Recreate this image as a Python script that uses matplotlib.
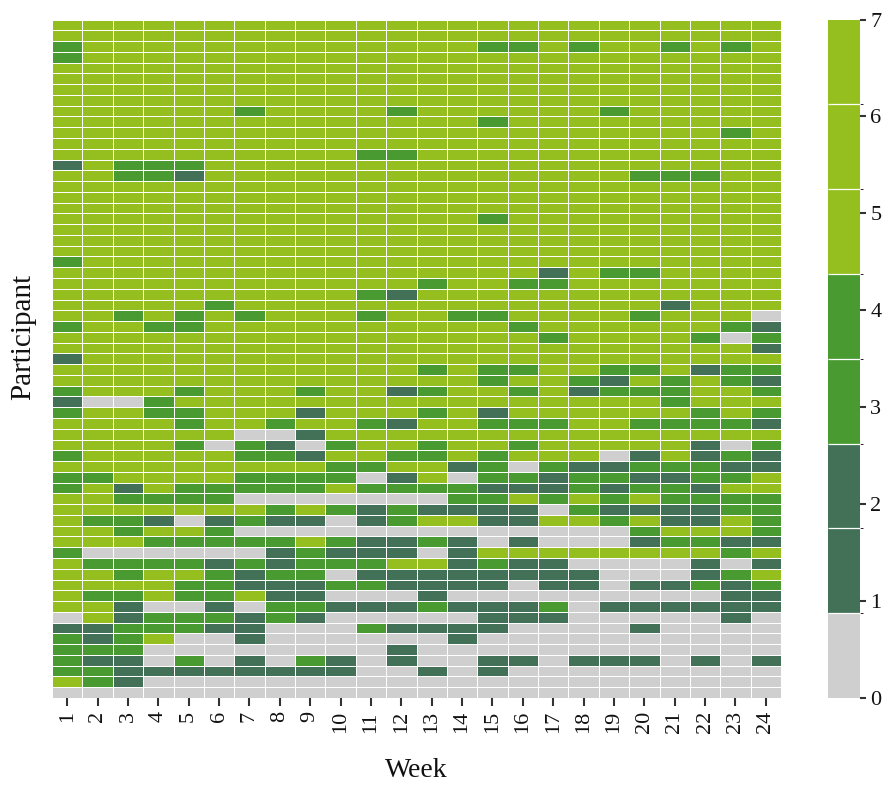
import numpy as np
import matplotlib
matplotlib.use("Agg")
import matplotlib.pyplot as plt
from matplotlib.colors import ListedColormap, BoundaryNorm

# Weekly score (0-7) per participant: one string per participant, one digit per week
# (weeks grouped in sixes for readability)
scores = [
    "777777 777777 777777 777777",
    "777777 777777 777777 777777",
    "477777 777777 774474 774747",
    "477777 777777 777777 777777",
    "777777 777777 777777 777777",
    "777777 777777 777777 777777",
    "777777 777777 777777 777777",
    "777777 777777 777777 777777",
    "777777 477774 777777 477777",
    "777777 777777 774777 777777",
    "777777 777777 777777 777747",
    "777777 777777 777777 777777",
    "777777 777744 777777 777777",
    "274447 777777 777777 777777",
    "774427 777777 777777 744477",
    "777777 777777 777777 777777",
    "777777 777777 777777 777777",
    "777777 777777 777777 777777",
    "777777 777777 774777 777777",
    "777777 777777 777777 777777",
    "777777 777777 777777 777777",
    "777777 777777 777777 777777",
    "477777 777777 777777 777777",
    "777777 777777 777727 447777",
    "777777 777777 477447 777777",
    "777777 777742 777777 777777",
    "777774 777777 777777 772777",
    "774747 477747 744777 747770",
    "477447 777777 777477 777742",
    "777777 777777 777747 777404",
    "777777 777777 777777 777772",
    "277777 777777 777777 777777",
    "777777 777777 474477 447244",
    "777777 777777 774774 274742",
    "477747 774772 477472 444774",
    "200477 777777 777777 774777",
    "477447 772777 472777 777474",
    "777747 747742 774447 744442",
    "777777 002777 777777 777777",
    "777740 420477 477477 777204",
    "477777 442774 474777 027242",
    "777777 777447 724042 244422",
    "447777 444402 704424 422447",
    "472744 444744 442224 244277",
    "774444 000000 044747 474444",
    "777777 747424 222204 222244",
    "744202 422024 772277 472274",
    "774774 000000 000000 047774",
    "777444 447422 420200 024422",
    "400000 024222 027777 777747",
    "744442 424447 724220 000202",
    "774774 244022 222222 000247",
    "777744 222442 222022 022424",
    "744744 722000 200000 000022",
    "772002 044222 422240 222222",
    "072444 242000 002220 000020",
    "224442 200042 222000 020000",
    "424700 200000 020000 000000",
    "444000 000002 000000 000000",
    "422040 204202 002202 220202",
    "442222 222200 202000 000000",
    "742000 000000 000000 000000",
    "000000 000000 000000 000000",
]

weeks = list(range(1, 25))
score_levels = list(range(0, 8))
level_colors = ["#cfcfcf", "#427157", "#427157", "#4a9a32",
                "#4a9a32", "#94bf1f", "#94bf1f", "#94bf1f"]

grid = np.array([[int(c) for c in row.replace(" ", "")] for row in scores])
n_rows, n_weeks = grid.shape

plt.rcParams["font.family"] = ["Liberation Serif", "DejaVu Serif"]

W, H = 885, 785
fig = plt.figure(figsize=(W / 100, H / 100), dpi=100)

left, right, top, bottom = 52, 781, 19.5, 698
ax = fig.add_axes([left / W, 1 - bottom / H, (right - left) / W, (bottom - top) / H])

cmap = ListedColormap(level_colors)
bounds = np.linspace(0, 7, len(level_colors) + 1)
norm = BoundaryNorm(bounds, cmap.N)

x_edges = np.arange(n_weeks + 1) + 0.5
y_edges = np.arange(n_rows + 1)
mesh = ax.pcolormesh(x_edges, y_edges, grid, cmap=cmap, norm=norm,
                     edgecolors="white", linewidth=0.6)
ax.set_xlim(0.5, n_weeks + 0.5)
ax.set_ylim(n_rows, 0)

ax.set_xticks(weeks)
ax.set_xticklabels([str(w) for w in weeks], rotation=90, fontsize=16, color="#111111")
ax.set_yticks([])
ax.tick_params(axis="x", length=5.5, width=1.5, color="#333333", pad=4)
for s in ax.spines.values():
    s.set_visible(False)

ax.set_xlabel("Week", fontsize=20, color="#111111")
ax.xaxis.set_label_coords(0.5, -0.088)
ax.set_ylabel("Participant", fontsize=21, color="#111111")
ax.yaxis.set_label_coords(-0.022, 0.532)

cax = fig.add_axes([828 / W, 1 - bottom / H, 32 / W, (bottom - top) / H])
cb = fig.colorbar(mesh, cax=cax, ticks=score_levels, spacing="proportional",
                  drawedges=True)
cb.outline.set_visible(False)
cb.dividers.set_color("white")
cb.dividers.set_linewidth(0.9)
cax.tick_params(length=4.5, width=1.5, color="#333333", labelsize=16,
                labelcolor="#111111", pad=3)

fig.savefig("out.png", dpi=100)
